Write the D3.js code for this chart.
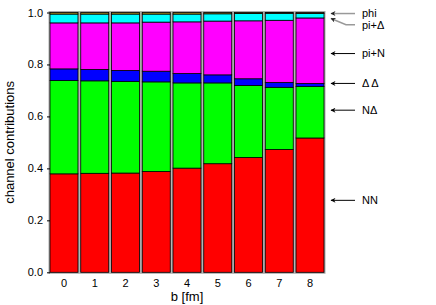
<html>
  <script src='https://d3js.org/d3.v7.min.js'></script>
  <head>
    <style>
      body { margin: 0; background: #fff; }
      text { font-family: 'Liberation Sans', Arial, sans-serif; }
    </style>
  </head>
  <body>
    <svg></svg>
    <script>
      // impact parameter b [fm]
      const bValues = ["0", "1", "2", "3", "4", "5", "6", "7", "8"];
      const channels = ["NN", "NDelta", "DeltaDelta", "piN", "piDelta", "phi"];
      const nn         = [0.379, 0.381, 0.382, 0.388, 0.401, 0.418, 0.442, 0.473, 0.517];
      const nDelta     = [0.359, 0.356, 0.353, 0.345, 0.328, 0.311, 0.277, 0.239, 0.198];
      const deltaDelta = [0.045, 0.044, 0.042, 0.041, 0.036, 0.031, 0.026, 0.019, 0.012];
      const piN        = [0.177, 0.179, 0.183, 0.189, 0.199, 0.207, 0.223, 0.239, 0.252];
      const piDelta    = [0.034, 0.034, 0.034, 0.031, 0.030, 0.028, 0.028, 0.027, 0.017];
      const phi        = [0.006, 0.006, 0.006, 0.006, 0.006, 0.005, 0.004, 0.003, 0.004];
      const yTicks = [0, 0.2, 0.4, 0.6, 0.8, 1.0];

      // labels on the right: text, value the arrow points at, value of the text row
      const labelText  = ["phi", "pi+\u0394", "pi+N", "\u0394 \u0394", "N\u0394", "NN"];
      const labelPoint = [0.996, 0.977, 0.842, 0.727, 0.624, 0.277];
      const labelRow   = [0.996, 0.953, 0.842, 0.727, 0.624, 0.277];

      const colors = {NN: "#ff0000", NDelta: "#00ff00", DeltaDelta: "#0000ff",
                      piN: "#ff00ff", piDelta: "#00ffff", phi: "#b8a020"};

      const width = 436, height = 305;
      const svg = d3.select("svg").attr("width", width).attr("height", height);

      const x = d3.scaleBand().domain(bValues).range([50, 324]).paddingInner(0.09).paddingOuter(0);
      const y = d3.scaleLinear().domain([0, 1]).range([272.3, 12.5]);

      const table = bValues.map(function(b, i) {
        return {b: b, NN: nn[i], NDelta: nDelta[i], DeltaDelta: deltaDelta[i],
                piN: piN[i], piDelta: piDelta[i], phi: phi[i]};
      });
      const stacked = d3.stack().keys(channels)(table);

      // grey shadow frame behind each bar
      svg.append("g").selectAll("rect")
        .data(table)
        .enter().append("rect")
        .attr("x", function(d) { return x(d.b); })
        .attr("width", x.bandwidth())
        .attr("y", y(1))
        .attr("height", y(0) - y(1))
        .attr("fill", "none")
        .attr("stroke", "#aaa")
        .attr("stroke-width", 3);

      svg.append("g").selectAll("g")
        .data(stacked)
        .enter().append("g")
        .attr("fill", function(d) { return colors[d.key]; })
        .selectAll("rect")
        .data(function(d) { return d; })
        .enter().append("rect")
        .attr("x", function(d) { return x(d.data.b); })
        .attr("width", x.bandwidth())
        .attr("y", function(d) { return y(d[1]); })
        .attr("height", function(d) { return y(d[0]) - y(d[1]); })
        .attr("stroke", "#000")
        .attr("stroke-width", 0.8);

      const yAxis = svg.append("g")
        .attr("transform", "translate(50,0)")
        .call(d3.axisLeft(y).tickValues(yTicks).tickFormat(d3.format(".1f")).tickSize(3).tickPadding(4));
      yAxis.select(".domain").remove();
      yAxis.selectAll("text").style("font-size", "11px").style("fill", "#000");

      const xAxis = svg.append("g")
        .attr("transform", "translate(0," + y(0) + ")")
        .call(d3.axisBottom(x).tickSize(0).tickPadding(7));
      xAxis.select(".domain").remove();
      xAxis.selectAll("text").style("font-size", "11px").style("fill", "#000");

      svg.append("text")
        .attr("transform", "translate(14," + ((y(0) + y(1)) / 2) + ") rotate(-90)")
        .attr("text-anchor", "middle")
        .style("font-size", "13px")
        .text("channel contributions");

      svg.append("text")
        .attr("x", (x.range()[0] + x.range()[1]) / 2)
        .attr("y", 301)
        .attr("text-anchor", "middle")
        .style("font-size", "13px")
        .text("b [fm]");

      // arrows, head at the start of each path
      const defs = svg.append("defs");
      ["#000", "#222"].forEach(function(c, k) {
        defs.append("marker")
          .attr("id", "arrow" + k)
          .attr("viewBox", "0 0 10 10")
          .attr("refX", 9).attr("refY", 5)
          .attr("markerWidth", 7).attr("markerHeight", 5)
          .attr("markerUnits", "userSpaceOnUse")
          .attr("orient", "auto-start-reverse")
          .append("path")
          .attr("d", "M10,5 L0,0 L3,5 L0,10 Z")
          .attr("fill", c);
      });

      const tipX = 331, bendX = 346, endX = 355, textX = 362;
      labelText.forEach(function(t, i) {
        const grey = i < 2;
        const pts = [[tipX, y(labelPoint[i])]];
        if (labelPoint[i] !== labelRow[i]) pts.push([bendX, y(labelRow[i])]);
        pts.push([endX, y(labelRow[i])]);
        svg.append("path")
          .attr("d", d3.line()(pts))
          .attr("fill", "none")
          .attr("stroke", grey ? "#999" : "#000")
          .attr("stroke-width", grey ? 1.5 : 1)
          .attr("marker-start", "url(#arrow" + (grey ? 1 : 0) + ")");
        svg.append("text")
          .attr("x", textX)
          .attr("y", y(labelRow[i]))
          .attr("dy", "0.35em")
          .style("font-size", "11px")
          .text(t);
      });
    </script>
  </body>
</html>
